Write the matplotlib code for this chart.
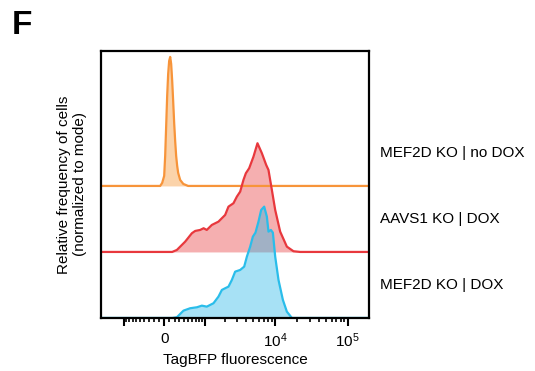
import numpy as np
import matplotlib
matplotlib.use("Agg")
import matplotlib.pyplot as plt
from matplotlib.transforms import blended_transform_factory

plt.rcParams['font.family'] = ['Liberation Sans', 'DejaVu Sans']
plt.rcParams['mathtext.fontset'] = 'custom'
plt.rcParams['mathtext.rm'] = 'Liberation Sans'

# TagBFP fluorescence (x) vs relative frequency (y, arbitrary units) for each sample
orange_x = [-76, -38, 0, 19, 38, 57, 76, 95, 115, 134, 154, 173, 193, 213, 233, 254, 275, 317, 386, 500]
orange_y = [0, 3, 10, 30, 60, 90, 112, 125, 129, 122, 105, 85, 63, 45, 30, 20, 13, 6, 2, 0]

red_x = [154, 248, 429, 596, 688, 842, 958, 1078, 1290, 1618, 2023, 2256, 2655, 2964, 3298, 3663,
         3958, 4398, 5046, 5731, 6593, 7558, 8131, 9053, 10060, 11780, 14560, 17950, 22200]
red_y = [0, 2, 10.3, 18.7, 21, 22, 23.7, 22, 27, 30.3, 37, 45.3, 48.7, 55.3, 60.3, 72,
         78.7, 83.7, 95.3, 108.7, 98.7, 87, 82, 62, 42, 20.3, 5.3, 0.7, 0]

blue_x = [154, 248, 390, 551, 742, 898, 1078, 1365, 1618, 1814, 2023, 2256, 2520, 2804, 3298, 3750,
          4088, 4543, 4949, 5377, 5916, 6449, 7094, 7725, 8131, 8774, 9347, 10060, 11170, 12840,
          14560, 17060]
blue_y = [0, 0.7, 7.3, 9.7, 10.7, 12.3, 11.3, 14.7, 21.3, 28, 29.7, 31.3, 38, 46.3, 48, 51.3,
          61.3, 71.3, 81.3, 85.3, 96.3, 108, 111.3, 101.3, 86.3, 88, 85.3, 61.3, 38, 18,
          6.3, 0]

labels = ['MEF2D KO | no DOX', 'AAVS1 KO | DOX', 'MEF2D KO | DOX']
offsets = [132, 66, 0]

xmin, xmax = -2166, 196900
W = 600.0

fig = plt.figure(figsize=(5.35, 3.71), dpi=100)
ax = fig.add_axes([0.189, 0.143, 0.501, 0.7197])
ax.set_xscale('function', functions=(lambda v: np.arcsinh(v / W), lambda u: W * np.sinh(u)))

series = [
    (orange_x, orange_y, offsets[0], '#F7943A', '#FBD3AA', 1.0),
    (red_x, red_y, offsets[1], '#E8383D', '#F5AFB0', 1.0),
    (blue_x, blue_y, offsets[2], '#2ABDEA', (37/255, 182/255, 230/255, 0.4), 1.0),
]

for xs, ys, off, lc, fc, a in series:
    xs = np.array([xmin] + xs + [xmax], dtype=float)
    ys = np.array([0] + ys + [0], dtype=float) + off
    ax.fill_between(xs, off, ys, color=fc, lw=0, zorder=1)
for xs, ys, off, lc, fc, a in series:
    xs = np.array([xmin] + xs + [xmax], dtype=float)
    ys = np.array([0] + ys + [0], dtype=float) + off
    ax.plot(xs, ys, color=lc, lw=1.6, zorder=2, solid_joinstyle='round')

ax.set_xlim(xmin, xmax)
ax.set_ylim(0, 267)
ax.set_yticks([])

ax.set_xticks([-1000, 0, 1000, 10000, 100000])
ax.set_xticklabels(['', '0', '', r'$\mathregular{10^4}$', r'$\mathregular{10^5}$'], fontsize=11)
minor = [-v for v in range(100, 1000, 100)] + list(range(100, 1000, 100)) + \
        list(range(2000, 10000, 1000)) + list(range(20000, 100000, 10000))
ax.set_xticks(minor, minor=True)
ax.tick_params(axis='x', which='major', length=6, width=1.5, pad=4)
ax.tick_params(axis='x', which='minor', length=3, width=1.2)
for s in ax.spines.values():
    s.set_linewidth(1.6)

ax.set_xlabel('TagBFP fluorescence', fontsize=11, labelpad=2)
ax.set_ylabel('Relative frequency of cells\n(normalized to mode)', fontsize=11, labelpad=10)

tr = blended_transform_factory(ax.transAxes, ax.transData)
for lab, off in zip(labels, offsets):
    ax.text(1.041, off + 33, lab, transform=tr, fontsize=11, va='center', ha='left')

fig.text(0.022, 0.93, 'F', fontsize=24, fontweight='bold', va='center', ha='left')

fig.savefig('out.png', dpi=100)
